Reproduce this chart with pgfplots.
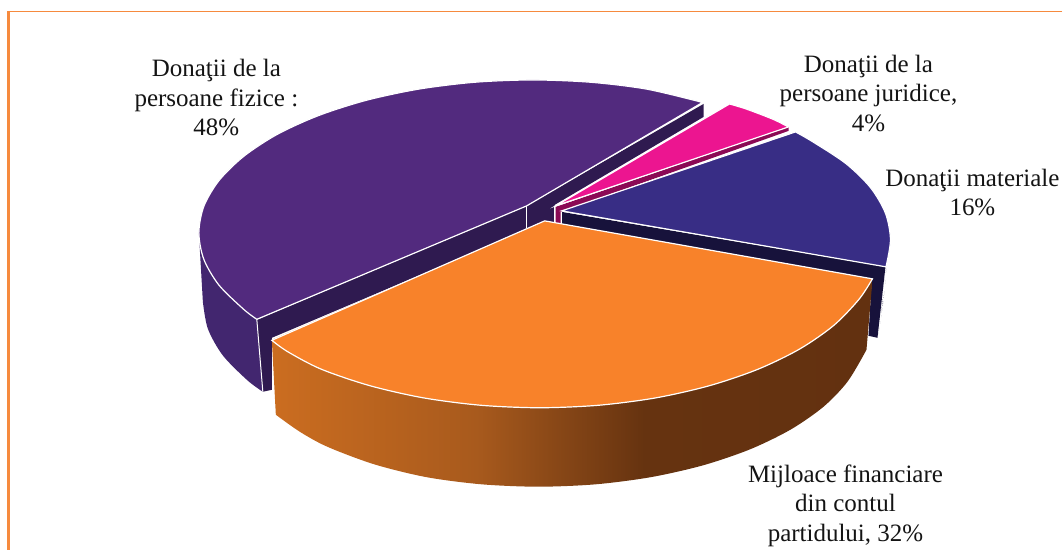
\documentclass[border=0pt]{standalone}
\usepackage{fontspec}
\setmainfont{Liberation Serif}
\usepackage{pgfplots}
\pgfplotsset{compat=1.18}
\definecolor{ptop}{HTML}{522A7E}
\definecolor{pcut}{HTML}{2F1A50}
\definecolor{pwall}{HTML}{42266F}
\definecolor{ppink}{HTML}{EC1590}
\definecolor{pmaroon}{HTML}{8B0A55}
\definecolor{btop}{HTML}{382D85}
\definecolor{bnavy}{HTML}{17123B}
\definecolor{otop}{HTML}{F8822A}
\definecolor{frm}{HTML}{F68A3E}
\definecolor{oa}{HTML}{CB6D20}
\definecolor{ob}{HTML}{A85A1D}
\definecolor{oc}{HTML}{663310}
\definecolor{od}{HTML}{633110}
\pgfdeclarehorizontalshading{owall}{100bp}{color(0bp)=(oa); color(25bp)=(oa); color(42bp)=(ob); color(56bp)=(oc); color(75bp)=(od); color(100bp)=(od)}
\tikzset{lbl/.style={anchor=center, align=center, text=black!92, font=\fontsize{25}{29.5}\selectfont}}
\begin{document}
\begin{tikzpicture}
\begin{axis}[
 scale only axis, width=1063pt, height=550pt,
 xmin=0, xmax=1063, ymin=0, ymax=550, y dir=reverse,
 hide axis, clip=false]
% page extent
\addplot[draw=none] coordinates {(0,0)(1063,550)};
% frame
\addplot[frm, line width=1.3pt] coordinates {(1063,11.7)(8.5,11.7)};
\addplot[frm, line width=2.4pt] coordinates {(8.5,11)(8.5,550)};
% purple wall
\addplot[smooth, fill=pwall, draw=none] coordinates {(203,302)(208,329)(223,355.7)(247.5,380.5)(263,392)} -- (axis cs:257,320) -- (axis cs:199,233) -- cycle;
% purple cut faces
\addplot[fill=pcut, draw=none] coordinates {(527,206)(257,320)(263,392)(272,390)(272,338)(527,230)(555,225)(555,205)(704,117)(704,104)} --cycle;
\addplot[white, line width=1pt] coordinates {(257,320)(263,392)};
\addplot[white, line width=1pt] coordinates {(527,206)(527,228)};
\addplot[white, line width=1pt] coordinates {(555,206)(555,224)};
% purple top
\addplot[smooth, fill=ptop, draw=white, line width=1.2pt] coordinates {(703,102.5)(647.2,89.2)(591,82.3)(533,80)(475,82.3)(418.8,89.2)(366,100.5)(318.3,115.8)(277.1,134.6)(243.8,156.5)(219.1,180.7)(204,206.4)(199,233)(204,259.6)(219.1,285.3)(243.8,309.5)(257,319.5)} -- (axis cs:527,206) -- cycle;
% pink side and top
\addplot[fill=pmaroon, draw=none] coordinates {(556,207)(789,127)(789,131)(561,212)(561,224)(556,224)} --cycle;
\addplot[smooth, fill=ppink, draw=white, line width=1.2pt] coordinates {(730,104)(745,108.5)(760,114)(775,120)(789,127)} -- (axis cs:556,206) -- cycle;
% blue sliver and cut
\addplot[smooth, fill=bnavy, draw=white, line width=.8pt] coordinates {(887,267)(884,300)(880,327)(878,337)} --cycle;
\addplot[fill=bnavy, draw=none] coordinates {(562,212)(886,267)(878,338)(869,336)(872,285)(562,226)} --cycle;
\addplot[white, line width=1pt] coordinates {(562,212)(562,226)};
% blue top
\addplot[smooth, fill=btop, draw=white, line width=1.2pt] coordinates {(796,132)(812.8,141.6)(846.2,163.5)(871,187.7)(886,213.4)(891,240)(886.5,267)} -- (axis cs:562,211) -- cycle;
% orange wall
\addplot[smooth, shading=owall, draw=none] coordinates {(867,350)(848.2,381.7)(824,407)(791,429.9)(750.5,449.6)(703.5,465.6)(651.5,477.4)(596.2,484.6)(539,487)(481.8,484.6)(426.5,477.4)(374.5,464.6)(327.5,447)(300,432)(276,415)} -- (axis cs:272,340) -- (axis cs:545,221) -- (axis cs:873,280) -- cycle;
% orange top
\addplot[smooth, fill=otop, draw=white, line width=1.2pt] coordinates {(873,279)(859.6,299.4)(834.4,325.5)(800.4,349.1)(758.6,369.4)(710,385.9)(656.3,398.1)(599,405.5)(540,408)(481,405.5)(423.7,398.1)(370,385.9)(321.4,369.4)(288,352)(272,340.5)} -- (axis cs:545,221) -- cycle;
% labels
\node[lbl] at (axis cs:216.5,98) {Donaţii de la\\persoane fizice :\\48\%};
\node[lbl] at (axis cs:869,93.5) {Donaţii de la\\persoane juridice,\\4\%};
\node[lbl] at (axis cs:973,192.5) {Donaţii materiale\\16\%};
\node[lbl] at (axis cs:846,506) {Mijloace financiare\\din contul\\partidului, 32\%};
\end{axis}
\end{tikzpicture}
\end{document}
